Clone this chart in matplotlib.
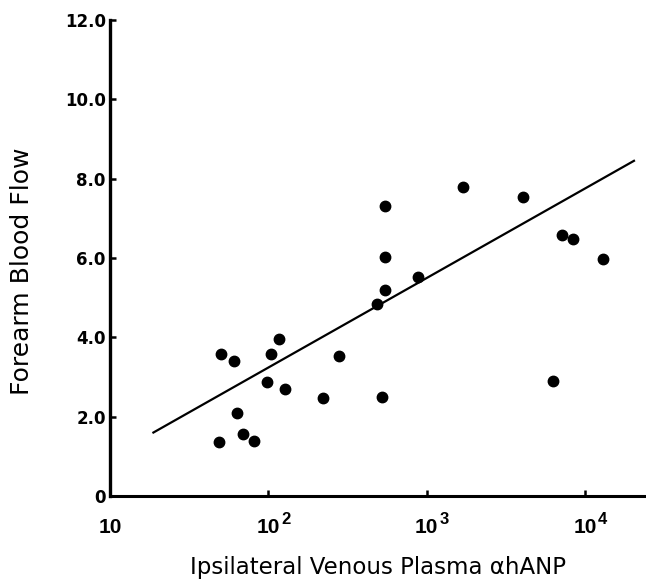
import matplotlib
matplotlib.use('Agg')
import matplotlib.pyplot as plt
from matplotlib.ticker import NullLocator

# ipsilateral venous plasma alpha-hANP (x) vs forearm blood flow (y)
hanp = [49, 69, 81, 63, 50, 61, 104, 116, 98, 127, 221, 281,
        520, 484, 544, 544, 548, 887, 1706, 4045, 7165, 8405, 13000, 6295]
flow = [1.35, 1.57, 1.39, 2.08, 3.57, 3.40, 3.58, 3.97, 2.88, 2.70, 2.46, 3.53,
        2.50, 4.83, 5.19, 6.02, 7.31, 5.53, 7.80, 7.54, 6.58, 6.47, 5.97, 2.90]

# end points of the regression line
fit_x = [18.8, 20400]
fit_y = [1.60, 8.45]

yticks = [0, 2, 4, 6, 8, 10, 12]
ytick_labels = ['0', '2.0', '4.0', '6.0', '8.0', '10.0', '12.0']
xticks = [10, 100, 1000, 10000]
xtick_exp = ['', '2', '3', '4']

fig = plt.figure(figsize=(6.46, 5.8), dpi=100)
ax = fig.add_axes([110/646, 84/580, 536/646, 476/580])

ax.plot(hanp, flow, 'o', color='black', ms=7.5, clip_on=False)
ax.plot(fit_x, fit_y, '-', color='black', lw=1.6)

ax.set_xscale('log')
ax.set_xlim(10, 24300)
ax.set_ylim(0, 12)

ax.spines['top'].set_visible(False)
ax.spines['right'].set_visible(False)
ax.spines['left'].set_linewidth(2.4)
ax.spines['bottom'].set_linewidth(2.2)

ax.set_yticks(yticks, labels=ytick_labels)
ax.set_xticks(xticks, labels=['']*len(xticks))
ax.xaxis.set_minor_locator(NullLocator())
ax.tick_params(axis='y', direction='in', length=4, width=1.8, pad=3, labelsize=12)
ax.tick_params(axis='x', direction='in', length=4, width=1.8)
for lbl in ax.get_yticklabels():
    lbl.set_fontweight('bold')
    lbl.set_family('DejaVu Sans')

# x tick labels: "10" with the power written as a raised number
for xv, ex in zip(xticks, xtick_exp):
    ax.annotate('10', xy=(xv, 0), xycoords=('data', 'axes fraction'),
                xytext=(0, -26.6), textcoords='offset points',
                ha='center', va='baseline', fontsize=15, fontweight='bold',
                family='Liberation Sans', annotation_clip=False)
    if ex:
        ax.annotate(ex, xy=(xv, 0), xycoords=('data', 'axes fraction'),
                    xytext=(9.4, -20), textcoords='offset points',
                    ha='left', va='baseline', fontsize=12, fontweight='bold',
                    family='Liberation Sans', annotation_clip=False)

ax.set_xlabel('Ipsilateral Venous Plasma \u03b1hANP', fontsize=16.5, va='baseline')
ax.xaxis.set_label_coords(0.5, (496 - 574) / 476)
ax.set_ylabel('Forearm Blood Flow', fontsize=18, va='center', ha='center')
ax.yaxis.set_label_coords((22 - 110) / 536, (496 - 271) / 476)

plt.savefig('out.png', dpi=100)
